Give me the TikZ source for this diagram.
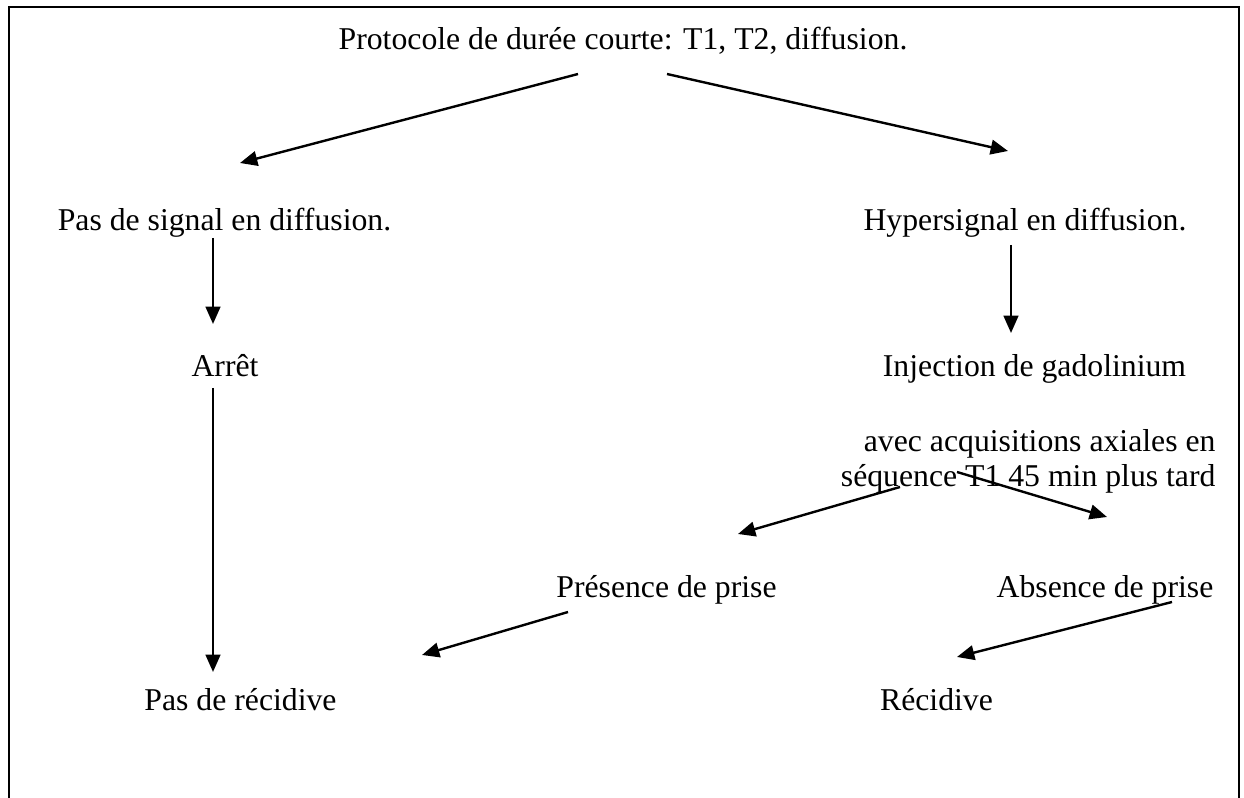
\documentclass[tikz,border=0pt]{standalone}
\usepackage{fontspec}
\setmainfont{Liberation Serif}
\usetikzlibrary{arrows.meta}

\tikzset{
  fleche/.style={line width=0.9pt, -{Triangle[length=6.5pt,width=5.5pt]}},
  txt/.style={anchor=base, inner sep=0pt, font=\fontsize{11.9}{13}\selectfont},
}

\begin{document}
\begin{tikzpicture}[x=0.375pt, y=-0.375pt]
\useasboundingbox (0,0) rectangle (1244,798);

% cadre ouvert en bas
\draw[line width=0.75pt] (9,798) -- (9,7.5) -- (1238.5,7.5) -- (1238.5,798);

% textes
\node[txt] (proto) at (623,50) {Protocole de durée courte: T1, T2, diffusion.};
\node[txt] (nosig) at (224.5,231) {Pas de signal en diffusion.};
\node[txt] (hyper) at (1025,231) {Hypersignal en diffusion.};
\node[txt] (arret) at (225,377) {Arrêt};
\node[txt] (inj) at (1034.5,377) {Injection de gadolinium};
\node[txt, anchor=base east] (acq) at (1216,452) {avec acquisitions axiales en};
\node[txt, anchor=base east] (seq) at (1216,487) {séquence T1 45 min plus tard};
\node[txt] (prise) at (666.5,598) {Présence de prise};
\node[txt] (noprise) at (1105,598) {Absence de prise};
\node[txt] (norec) at (240.5,710) {Pas de récidive};
\node[txt] (rec) at (936.5,710) {Récidive};

% bouts des fleches
\coordinate (a1) at (578,74);   \coordinate (b1) at (240,163);
\coordinate (a2) at (667,74);   \coordinate (b2) at (1008,151);
\coordinate (a3) at (213,238);  \coordinate (b3) at (213,324);
\coordinate (a4) at (1011,245); \coordinate (b4) at (1011,333);
\coordinate (a5) at (213,388);  \coordinate (b5) at (213,672);
\coordinate (a6) at (900,487);  \coordinate (b6) at (738,534);
\coordinate (a7) at (957,472);  \coordinate (b7) at (1107,517);
\coordinate (a8) at (568,612);  \coordinate (b8) at (422,655);
\coordinate (a9) at (1172,602); \coordinate (b9) at (957,657);

\draw[fleche] (a1) -- (b1);
\draw[fleche] (a2) -- (b2);
\draw[fleche] (a3) -- (b3);
\draw[fleche] (a4) -- (b4);
\draw[fleche] (a5) -- (b5);
\draw[fleche] (a6) -- (b6);
\draw[fleche] (a7) -- (b7);
\draw[fleche] (a8) -- (b8);
\draw[fleche] (a9) -- (b9);

\end{tikzpicture}
\end{document}
